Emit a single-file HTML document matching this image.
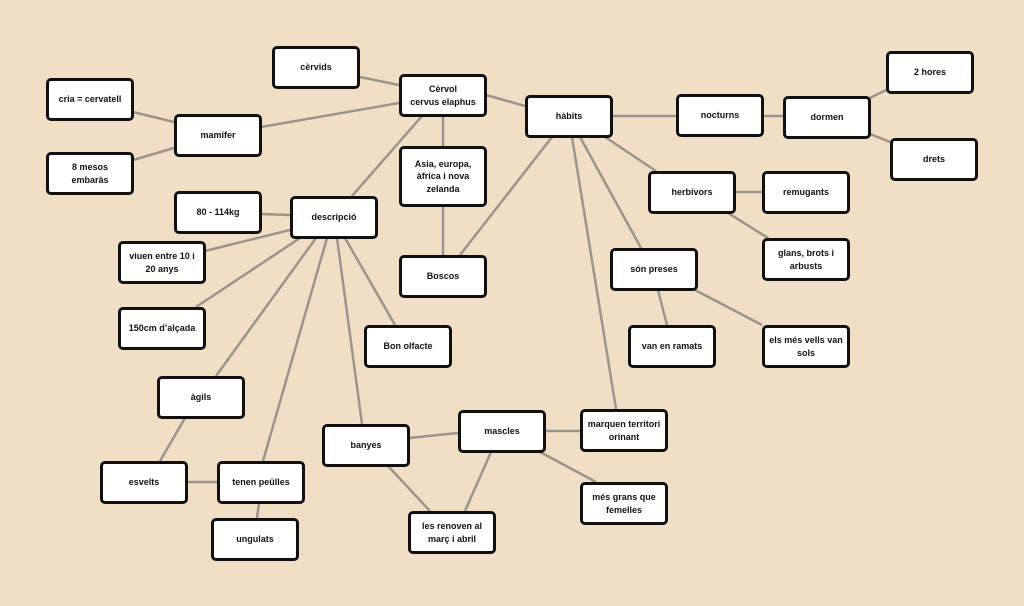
<!DOCTYPE html>
<html><head><meta charset="utf-8"><style>
body{margin:0;width:1024px;height:606px;background:#f1dfc5;overflow:hidden}
svg{position:absolute;left:0;top:0}
.b{position:absolute;box-sizing:border-box;background:#fff;border:3px solid #111;border-radius:5px;display:flex;align-items:center;justify-content:center;text-align:center;font:bold 9px/1.4 "Liberation Sans",sans-serif;color:#111;padding:0;white-space:nowrap}
</style></head><body>
<svg width="1024" height="606" stroke="#9b958e" stroke-width="2.5">
<line x1="360" y1="77" x2="399" y2="85"/>
<line x1="261" y1="127" x2="399" y2="103"/>
<line x1="133" y1="112" x2="174" y2="122"/>
<line x1="133" y1="160" x2="174" y2="148"/>
<line x1="422" y1="116" x2="352" y2="196"/>
<line x1="443" y1="116" x2="443" y2="255"/>
<line x1="486" y1="95" x2="525" y2="106"/>
<line x1="552" y1="137" x2="460" y2="255"/>
<line x1="612" y1="116" x2="676" y2="116"/>
<line x1="763" y1="116" x2="783" y2="116"/>
<line x1="870" y1="98" x2="886" y2="90"/>
<line x1="870" y1="134" x2="890" y2="142"/>
<line x1="605" y1="137" x2="656" y2="171"/>
<line x1="735" y1="192" x2="762" y2="192"/>
<line x1="728" y1="213" x2="768" y2="238"/>
<line x1="580" y1="137" x2="641" y2="248"/>
<line x1="572" y1="137" x2="616" y2="409"/>
<line x1="658" y1="290" x2="667" y2="325"/>
<line x1="695" y1="290" x2="762" y2="325"/>
<line x1="261" y1="214" x2="290" y2="215"/>
<line x1="290" y1="230" x2="205" y2="251"/>
<line x1="300" y1="238" x2="196" y2="307"/>
<line x1="316" y1="238" x2="216" y2="376"/>
<line x1="327" y1="238" x2="263" y2="461"/>
<line x1="337" y1="238" x2="362" y2="424"/>
<line x1="345" y1="238" x2="395" y2="325"/>
<line x1="185" y1="418" x2="160" y2="461"/>
<line x1="187" y1="482" x2="217" y2="482"/>
<line x1="259" y1="503" x2="257" y2="518"/>
<line x1="409" y1="438" x2="458" y2="433"/>
<line x1="388" y1="466" x2="430" y2="511"/>
<line x1="491" y1="452" x2="465" y2="511"/>
<line x1="545" y1="431" x2="580" y2="431"/>
<line x1="540" y1="452" x2="596" y2="482"/>
</svg>
<div class="b" style="left:272px;top:46px;width:88px;height:43px">cèrvids</div>
<div class="b" style="left:399px;top:74px;width:88px;height:43px">Cèrvol<br>cervus elaphus</div>
<div class="b" style="left:46px;top:78px;width:88px;height:43px">cria = cervatell</div>
<div class="b" style="left:174px;top:114px;width:88px;height:43px">mamífer</div>
<div class="b" style="left:46px;top:152px;width:88px;height:43px">8 mesos<br>embaràs</div>
<div class="b" style="left:525px;top:95px;width:88px;height:43px">hàbits</div>
<div class="b" style="left:676px;top:94px;width:88px;height:43px">nocturns</div>
<div class="b" style="left:783px;top:96px;width:88px;height:43px">dormen</div>
<div class="b" style="left:886px;top:51px;width:88px;height:43px">2 hores</div>
<div class="b" style="left:890px;top:138px;width:88px;height:43px">drets</div>
<div class="b" style="left:399px;top:146px;width:88px;height:61px">Asia, europa,<br>àfrica i nova<br>zelanda</div>
<div class="b" style="left:174px;top:191px;width:88px;height:43px">80 - 114kg</div>
<div class="b" style="left:290px;top:196px;width:88px;height:43px">descripció</div>
<div class="b" style="left:648px;top:171px;width:88px;height:43px">herbívors</div>
<div class="b" style="left:762px;top:171px;width:88px;height:43px">remugants</div>
<div class="b" style="left:762px;top:238px;width:88px;height:43px">glans, brots i<br>arbusts</div>
<div class="b" style="left:118px;top:241px;width:88px;height:43px">viuen entre 10 i<br>20 anys</div>
<div class="b" style="left:399px;top:255px;width:88px;height:43px">Boscos</div>
<div class="b" style="left:610px;top:248px;width:88px;height:43px">són preses</div>
<div class="b" style="left:118px;top:307px;width:88px;height:43px">150cm d’alçada</div>
<div class="b" style="left:364px;top:325px;width:88px;height:43px">Bon olfacte</div>
<div class="b" style="left:628px;top:325px;width:88px;height:43px">van en ramats</div>
<div class="b" style="left:762px;top:325px;width:88px;height:43px">els més vells van<br>sols</div>
<div class="b" style="left:157px;top:376px;width:88px;height:43px">àgils</div>
<div class="b" style="left:322px;top:424px;width:88px;height:43px">banyes</div>
<div class="b" style="left:458px;top:410px;width:88px;height:43px">mascles</div>
<div class="b" style="left:580px;top:409px;width:88px;height:43px">marquen territori<br>orinant</div>
<div class="b" style="left:100px;top:461px;width:88px;height:43px">esvelts</div>
<div class="b" style="left:217px;top:461px;width:88px;height:43px">tenen peülles</div>
<div class="b" style="left:580px;top:482px;width:88px;height:43px">més grans que<br>femelles</div>
<div class="b" style="left:408px;top:511px;width:88px;height:43px">les renoven al<br>març i abril</div>
<div class="b" style="left:211px;top:518px;width:88px;height:43px">ungulats</div>
</body></html>
